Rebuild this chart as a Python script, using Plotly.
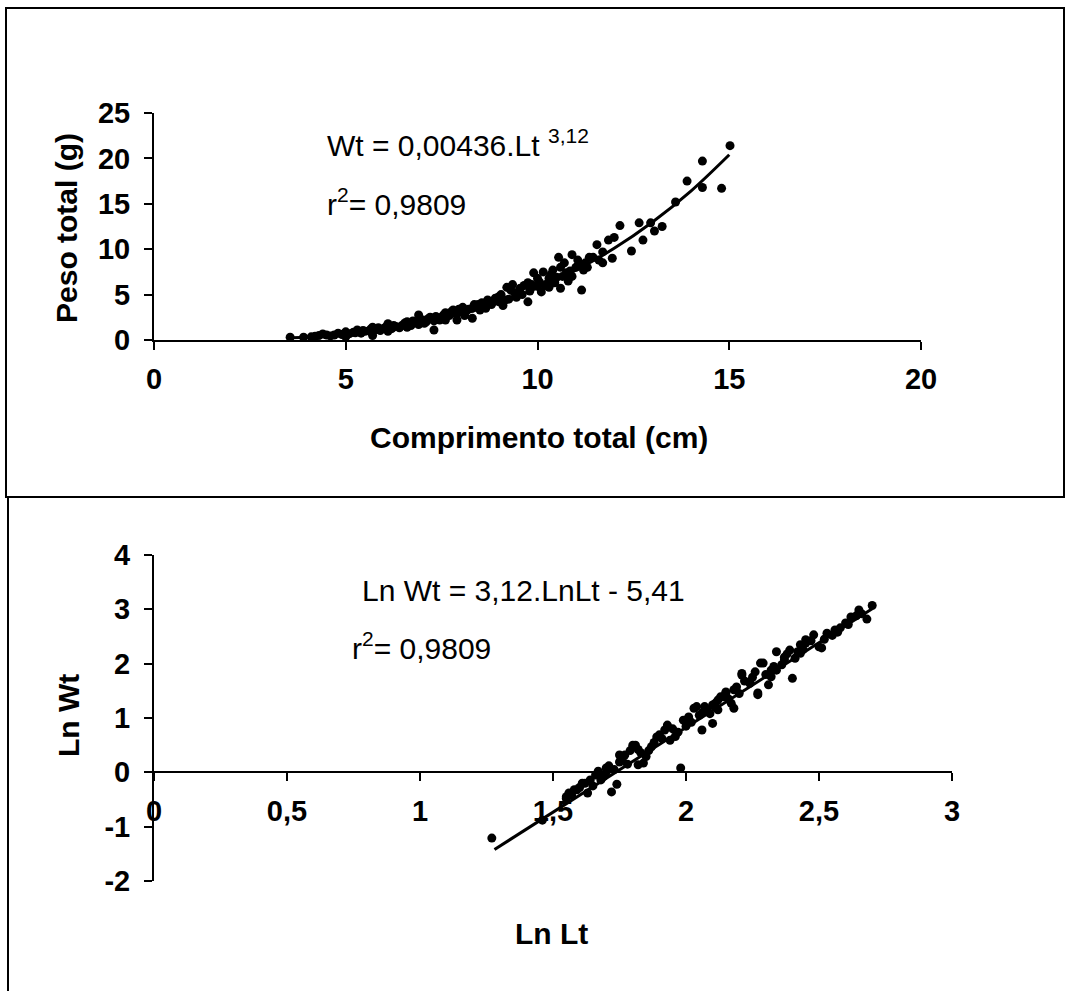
import plotly.graph_objects as go

# Peso total (g) vs comprimento total (cm)
comp_total = [3.55, 3.9, 4.1, 4.3, 4.4, 4.6, 4.7, 4.8, 4.9, 5.0, 5.0, 5.1, 5.2, 5.3, 5.4,
              5.5, 5.6, 5.7, 5.7, 5.8, 5.9, 6.0, 6.1, 6.1, 6.2, 6.3, 6.4, 6.5, 6.6, 6.6,
              6.7, 6.8, 6.9, 6.9, 7.0, 7.1, 7.2, 7.3, 7.3, 7.4, 7.5, 7.6, 7.6, 7.7, 7.8,
              7.9, 7.9, 8.0, 8.1, 8.2, 8.3, 8.3, 8.45, 8.5, 8.6, 8.7, 8.8, 8.9, 9.0, 9.05,
              9.1, 9.2, 9.25, 9.35, 9.4, 9.45, 9.55, 9.6, 9.75, 9.75, 9.8, 9.9, 10.0, 10.05,
              10.1, 10.15, 10.2, 10.3, 10.3, 10.4, 10.45, 10.55, 10.6, 10.65, 10.7, 10.75,
              10.8, 10.9, 10.9, 11.0, 11.1, 11.15, 11.2, 11.25, 11.35, 11.45, 11.55, 11.6,
              11.7, 11.7, 11.85, 11.95, 12.0, 12.15, 12.45, 12.65, 12.75, 12.95, 13.05,
              13.25, 13.6, 13.9, 14.3, 14.3, 14.8, 15.02,
              4.2, 4.5, 4.95, 5.25, 5.45, 5.65, 5.85, 6.05, 6.25, 6.45, 6.55, 6.75, 6.95,
              7.05, 7.15, 7.35, 7.45, 7.55, 7.75, 7.95, 8.05, 8.15, 8.35, 8.55, 8.65, 8.85,
              9.0, 9.15, 9.3, 9.5, 9.65, 9.85, 10.0, 10.25, 10.35, 10.5, 10.6, 10.85,
              11.05, 11.3]
peso_total = [0.30, 0.30, 0.35, 0.50, 0.66, 0.45, 0.55, 0.75, 0.60, 0.90, 0.35, 0.70, 0.85,
              1.10, 0.75, 0.95, 1.00, 1.40, 0.50, 1.15, 1.05, 1.30, 1.80, 0.95, 1.25, 1.50,
              1.35, 1.70, 2.00, 1.40, 1.60, 1.90, 2.75, 1.70, 2.20, 2.00, 2.50, 1.10, 2.10,
              2.40, 2.50, 3.00, 2.20, 2.70, 3.30, 2.20, 2.90, 3.10, 2.70, 3.40, 3.50, 2.40,
              3.90, 3.30, 3.70, 4.40, 3.90, 4.60, 4.20, 5.00, 3.80, 5.80, 4.50, 6.10, 5.20,
              4.70, 5.70, 5.00, 6.30, 4.20, 5.40, 7.40, 5.90, 6.40, 5.30, 7.50, 6.00, 5.80,
              6.80, 7.70, 6.30, 9.10, 5.70, 7.00, 8.50, 7.40, 6.50, 9.40, 7.00, 8.00, 8.30,
              5.50, 7.70, 8.50, 9.10, 9.10, 10.50, 8.80, 9.70, 8.50, 11.00, 9.00, 11.30,
              12.60, 9.80, 12.90, 11.00, 12.90, 12.00, 12.50, 15.20, 17.50, 19.70, 16.80,
              16.70, 21.40,
              0.40, 0.55, 0.70, 0.80, 1.05, 1.20, 1.35, 1.45, 1.60, 1.55, 1.90, 2.10, 2.30,
              1.85, 2.35, 2.60, 2.20, 2.75, 3.10, 3.40, 3.60, 3.20, 3.90, 4.10, 3.50, 4.30,
              4.80, 4.40, 5.50, 5.30, 6.00, 6.10, 6.80, 6.20, 7.20, 6.90, 8.00, 7.60,
              8.80, 8.00]

# curva ajustada (lida sobre o traco do grafico)
curva_x = [3.6, 4, 5, 6, 7, 8, 9, 10, 11, 12, 13, 14, 15]
curva_y = [0.25, 0.33, 0.66, 1.16, 1.87, 2.85, 4.1, 5.75, 7.7, 10.1, 13.0, 16.4, 20.4]

# Ln Wt vs Ln Lt
ln_lt = [1.27, 1.46, 1.55, 1.55, 1.56, 1.58, 1.59, 1.61, 1.62, 1.63, 1.64, 1.66, 1.68,
         1.70, 1.70, 1.72, 1.74, 1.75, 1.75, 1.77, 1.80, 1.81, 1.82, 1.83, 1.84, 1.85,
         1.87, 1.89, 1.90, 1.93, 1.94, 1.97, 1.98, 1.99, 2.03, 2.04, 2.06, 2.06, 2.07,
         2.08, 2.10, 2.10, 2.11, 2.13, 2.14, 2.15, 2.15, 2.17, 2.18, 2.18, 2.19, 2.21,
         2.21, 2.24, 2.24, 2.26, 2.27, 2.27, 2.28, 2.29, 2.31, 2.32, 2.32, 2.34, 2.34,
         2.37, 2.37, 2.39, 2.40, 2.42, 2.43, 2.43, 2.45, 2.45, 2.48, 2.50, 2.51, 2.53,
         2.56, 2.57, 2.60, 2.62, 2.64, 2.65, 2.68, 2.70,
         1.57, 1.60, 1.65, 1.67, 1.69, 1.71, 1.73, 1.76, 1.78, 1.79, 1.82, 1.86, 1.88,
         1.91, 1.92, 1.95, 1.96, 2.00, 2.01, 2.02, 2.05, 2.09, 2.12, 2.12, 2.16, 2.20,
         2.22, 2.25, 2.30, 2.33, 2.36, 2.38, 2.41, 2.44, 2.47, 2.52, 2.55, 2.58, 2.61,
         2.66]
ln_wt = [-1.21, -0.88, -0.45, -0.48, -0.38, -0.32, -0.32, -0.20, -0.20, -0.38, -0.14,
         -0.05, -0.14, 0.08, 0.00, -0.36, -0.22, 0.19, 0.32, 0.32, 0.50, 0.50, 0.14, 0.36,
         0.17, 0.29, 0.47, 0.65, 0.69, 0.87, 0.59, 0.74, 0.08, 0.96, 1.18, 1.21, 1.09,
         0.78, 1.21, 1.15, 0.90, 1.24, 1.27, 1.39, 1.39, 1.46, 1.48, 1.27, 1.52, 1.18,
         1.57, 1.79, 1.82, 1.64, 1.66, 1.85, 1.43, 1.46, 2.01, 2.01, 1.61, 1.88, 1.76,
         2.22, 1.88, 2.12, 2.07, 2.25, 1.73, 2.22, 2.35, 2.19, 2.38, 2.44, 2.53, 2.31,
         2.29, 2.56, 2.62, 2.58, 2.75, 2.86, 2.88, 2.99, 2.82, 3.07,
         -0.42, -0.28, -0.25, 0.02, -0.08, 0.12, 0.05, 0.24, 0.15, 0.40, 0.42, 0.40, 0.55,
         0.62, 0.78, 0.80, 0.66, 0.85, 1.02, 0.92, 1.05, 1.08, 1.15, 1.33, 1.35, 1.45,
         1.68, 1.75, 1.80, 1.95, 1.98, 2.18, 2.10, 2.26, 2.42, 2.45, 2.52, 2.66, 2.72,
         2.92]

reta_x = [1.28, 2.70]
reta_y = [-1.42, 3.01]

# rotulos do eixo y inferior (com hifen, como no original)
ln_wt_ticks = [-2, -1, 0, 1, 2, 3, 4]
ln_wt_labels = ["-2", "-1", "0", "1", "2", "3", "4"]

W, H = 1067, 991


def px(x):
    return x / W


def py(y):
    return 1 - y / H


tick_font = dict(family="Liberation Sans, Arial", size=29, color="black", weight="bold")
axis_style = dict(showline=True, linecolor="black", linewidth=2, ticks="outside",
                  ticklen=8, tickwidth=2, tickcolor="black", showgrid=False,
                  zeroline=False, automargin=False, tickfont=tick_font)

fig = go.Figure()

fig.add_trace(go.Scatter(x=comp_total, y=peso_total, mode="markers",
                         marker=dict(color="black", size=9), xaxis="x", yaxis="y"))
fig.add_trace(go.Scatter(x=curva_x, y=curva_y, mode="lines",
                         line=dict(color="black", width=3, shape="spline"),
                         xaxis="x", yaxis="y"))
fig.add_trace(go.Scatter(x=ln_lt, y=ln_wt, mode="markers",
                         marker=dict(color="black", size=9), xaxis="x2", yaxis="y2"))
fig.add_trace(go.Scatter(x=reta_x, y=reta_y, mode="lines",
                         line=dict(color="black", width=3), xaxis="x2", yaxis="y2"))

fig.update_layout(
    width=W, height=H,
    margin=dict(l=0, r=0, t=0, b=0, pad=0, autoexpand=False),
    paper_bgcolor="white", plot_bgcolor="rgba(0,0,0,0)",
    showlegend=False,
    font=dict(family="Liberation Sans, Arial", color="black"),
    xaxis=dict(domain=[px(154), px(921)], range=[0, 20], dtick=5, anchor="y",
               ticklabelstandoff=4, **axis_style),
    yaxis=dict(domain=[py(340), py(113)], range=[0, 25], dtick=5, anchor="x",
               ticklabelstandoff=8, **axis_style),
    xaxis2=dict(domain=[px(154), px(952)], range=[0, 3], dtick=0.5, anchor="free",
                position=py(772.3), ticklabelstandoff=5, **axis_style),
    yaxis2=dict(domain=[py(881), py(555)], range=[-2, 4], tickvals=ln_wt_ticks,
                ticktext=ln_wt_labels, anchor="x2", ticklabelstandoff=8, **axis_style),
    separators=", ",
)

# titulos dos eixos
titulo = dict(family="Liberation Sans, Arial", size=30, color="black", weight="bold")
fig.add_annotation(text="Comprimento total (cm)", x=px(539), y=py(437), xref="paper",
                   yref="paper", xanchor="center", yanchor="middle", showarrow=False,
                   font=titulo)
fig.add_annotation(text="Peso total (g)", x=px(66), y=py(228), xref="paper",
                   yref="paper", xanchor="center", yanchor="middle", showarrow=False,
                   textangle=-90, font=titulo)
fig.add_annotation(text="Ln Lt", x=px(551), y=py(933), xref="paper",
                   yref="paper", xanchor="center", yanchor="middle", showarrow=False,
                   font=titulo)
fig.add_annotation(text="Ln Wt", x=px(68), y=py(716), xref="paper",
                   yref="paper", xanchor="center", yanchor="middle", showarrow=False,
                   textangle=-90, font=titulo)

# equacoes
eq = dict(family="Liberation Sans, Arial", size=30, color="black")
fig.add_annotation(text="Wt = 0,00436.Lt <sup>3,12</sup>", x=px(325), y=py(143),
                   xref="paper", yref="paper", xanchor="left", yanchor="middle",
                   showarrow=False, font=eq)
fig.add_annotation(text="r<sup>2</sup>= 0,9809", x=px(325), y=py(202),
                   xref="paper", yref="paper", xanchor="left", yanchor="middle",
                   showarrow=False, font=eq)
fig.add_annotation(text="Ln Wt = 3,12.LnLt - 5,41", x=px(360), y=py(590),
                   xref="paper", yref="paper", xanchor="left", yanchor="middle",
                   showarrow=False, font=eq)
fig.add_annotation(text="r<sup>2</sup>= 0,9809", x=px(350), y=py(646),
                   xref="paper", yref="paper", xanchor="left", yanchor="middle",
                   showarrow=False, font=eq)

# moldura
fig.add_shape(type="rect", xref="paper", yref="paper", x0=px(6), y0=py(497),
              x1=px(1064), y1=py(8), line=dict(color="black", width=2))
fig.add_shape(type="line", xref="paper", yref="paper", x0=px(8), y0=py(497),
              x1=px(8), y1=py(991), line=dict(color="black", width=2))

fig.write_html("out.html", config={"displayModeBar": False},
               post_script="document.body.style.margin='0px';"
                           "document.body.style.overflow='hidden';")
